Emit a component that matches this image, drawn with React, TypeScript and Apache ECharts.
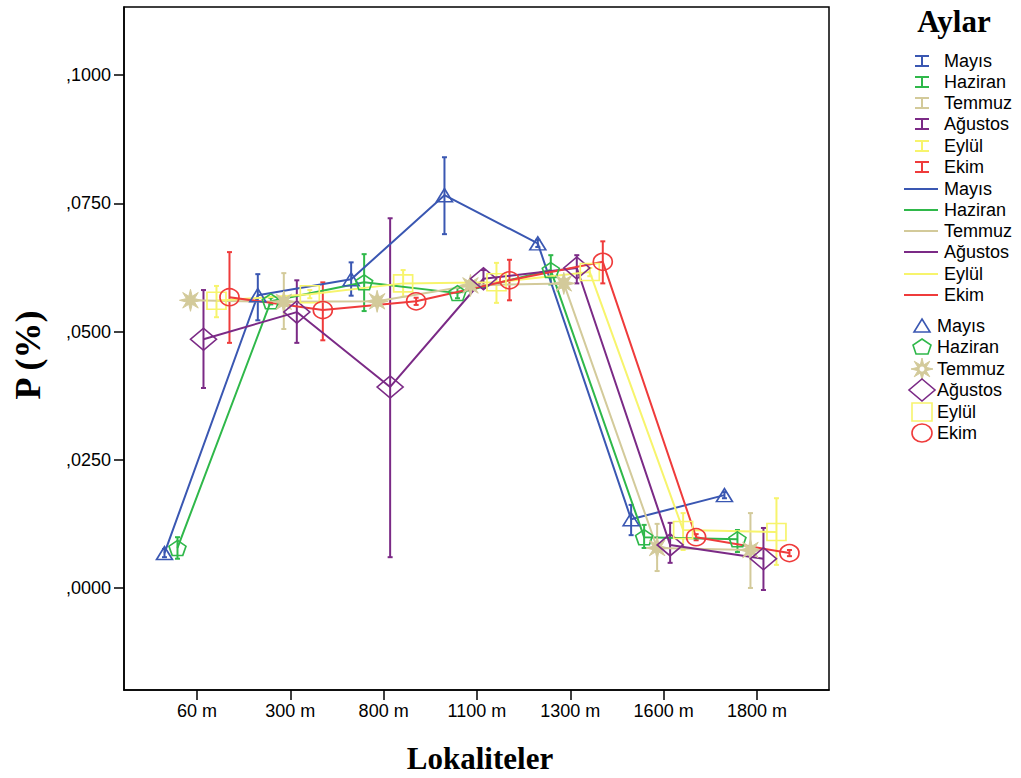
import React, { useEffect, useRef } from "react";
import * as echarts from "echarts";

// Sampling sites (x axis) and months (series)
const CATEGORIES = ["60 m", "300 m", "800 m", "1100 m", "1300 m", "1600 m", "1800 m"];
const MONTHS = ["Mayıs", "Haziran", "Temmuz", "Ağustos", "Eylül", "Ekim"];
const COLORS = ["#3a57b2", "#2fb84a", "#d3ca9a", "#7b2a86", "#f7f46c", "#ef3b3b"];

// Mean P (%) per site, with lower / upper error-bar ends
const MAYIS_MEAN = [0.0068, 0.0571, 0.0602, 0.0766, 0.0672, 0.0134, 0.0181];
const MAYIS_LOW = [0.006, 0.0522, 0.057, 0.069, 0.0665, 0.0103, 0.0175];
const MAYIS_HIGH = [0.0076, 0.0612, 0.0635, 0.084, 0.0679, 0.0162, 0.0187];

const HAZIRAN_MEAN = [0.0078, 0.0559, 0.0596, 0.0575, 0.062, 0.0099, 0.0095];
const HAZIRAN_LOW = [0.0057, 0.0553, 0.054, 0.0565, 0.0592, 0.0078, 0.007];
const HAZIRAN_HIGH = [0.0099, 0.0566, 0.0651, 0.0585, 0.0649, 0.0123, 0.0113];

const TEMMUZ_MEAN = [0.0561, 0.0558, 0.0559, 0.059, 0.0594, 0.0078, 0.0074];
const TEMMUZ_LOW = [0.0555, 0.0505, 0.055, 0.058, 0.0585, 0.0033, 0.0];
const TEMMUZ_HIGH = [0.0567, 0.0614, 0.0568, 0.06, 0.0603, 0.0125, 0.0146];

const AGUSTOS_MEAN = [0.0485, 0.0538, 0.0392, 0.0603, 0.0624, 0.0084, 0.0057];
const AGUSTOS_LOW = [0.039, 0.0478, 0.006, 0.0585, 0.0594, 0.0049, -0.0004];
const AGUSTOS_HIGH = [0.0581, 0.06, 0.0721, 0.062, 0.0649, 0.0127, 0.0117];

const EYLUL_MEAN = [0.056, 0.0573, 0.0594, 0.0596, 0.0616, 0.0113, 0.0109];
const EYLUL_LOW = [0.0528, 0.0565, 0.0568, 0.0556, 0.0608, 0.0074, 0.0045];
const EYLUL_HIGH = [0.0589, 0.0581, 0.062, 0.0634, 0.0624, 0.0146, 0.0175];

const EKIM_MEAN = [0.0567, 0.0542, 0.0559, 0.06, 0.0636, 0.0099, 0.0068];
const EKIM_LOW = [0.0478, 0.0483, 0.0552, 0.0561, 0.0594, 0.0093, 0.0062];
const EKIM_HIGH = [0.0655, 0.0596, 0.0566, 0.064, 0.0676, 0.0105, 0.0074];

const Y_TICKS = [0, 0.025, 0.05, 0.075, 0.1];
const Y_TICK_LABELS = [",0000", ",0250", ",0500", ",0750", ",1000"];

const MEANS = [MAYIS_MEAN, HAZIRAN_MEAN, TEMMUZ_MEAN, AGUSTOS_MEAN, EYLUL_MEAN, EKIM_MEAN];
const LOWS = [MAYIS_LOW, HAZIRAN_LOW, TEMMUZ_LOW, AGUSTOS_LOW, EYLUL_LOW, EKIM_LOW];
const HIGHS = [MAYIS_HIGH, HAZIRAN_HIGH, TEMMUZ_HIGH, AGUSTOS_HIGH, EYLUL_HIGH, EKIM_HIGH];

// horizontal dodge between months inside one site
const DODGE = 0.1393;

const PENTAGON = "path://M0,-10 L9.51,-3.09 L5.88,8.09 L-5.88,8.09 L-9.51,-3.09 Z";
const STAR =
  "path://M0,-10 L1.53,-3.7 L7.07,-7.07 L3.7,-1.53 L10,0 L3.7,1.53 L7.07,7.07 L1.53,3.7 L0,10 L-1.53,3.7 L-7.07,7.07 L-3.7,1.53 L-10,0 L-3.7,-1.53 L-7.07,-7.07 L-1.53,-3.7 Z";
const SYMBOLS = ["triangle", PENTAGON, STAR, "diamond", "rect", "circle"];
const SYMBOL_SIZES: any[] = [[16, 13], [17, 15], [22, 22], [26, 22], [19, 17], [19, 17]];

const SANS = "Liberation Sans, Arial, sans-serif";
const SERIF = "Liberation Serif, Times New Roman, serif";

function buildLegend(): any[] {
  const els: any[] = [];
  els.push({
    type: "text",
    x: 954,
    y: 21,
    style: { text: "Aylar", font: `bold 31px ${SERIF}`, fill: "#000", align: "center", verticalAlign: "middle" },
  });
  const barRows = [61, 82, 103, 124, 146, 167];
  const lineRows = [189, 210, 231, 252, 274, 295];
  const markRows = [326, 347, 369, 390, 412, 433];
  MONTHS.forEach((m, i) => {
    const c = COLORS[i];
    const y = barRows[i];
    els.push({
      type: "group",
      children: [
        { type: "line", shape: { x1: 922, y1: y - 5, x2: 922, y2: y + 5 }, style: { stroke: c, lineWidth: 2 } },
        { type: "line", shape: { x1: 915, y1: y - 5, x2: 929, y2: y - 5 }, style: { stroke: c, lineWidth: 2 } },
        { type: "line", shape: { x1: 915, y1: y + 5, x2: 929, y2: y + 5 }, style: { stroke: c, lineWidth: 2 } },
      ],
    });
    els.push({
      type: "text",
      x: 944,
      y,
      style: { text: m, font: `18px ${SANS}`, fill: "#000", verticalAlign: "middle" },
    });
    const ly = lineRows[i];
    els.push({ type: "line", shape: { x1: 904, y1: ly, x2: 938, y2: ly }, style: { stroke: c, lineWidth: 2 } });
    els.push({
      type: "text",
      x: 944,
      y: ly,
      style: { text: m, font: `18px ${SANS}`, fill: "#000", verticalAlign: "middle" },
    });
    const my = markRows[i];
    const cx = 922;
    const st = { stroke: c, lineWidth: 1.6, fill: "none" };
    if (i === 0) {
      els.push({ type: "polygon", shape: { points: [[cx, my - 7], [cx + 8, my + 6], [cx - 8, my + 6]] }, style: st });
    } else if (i === 1) {
      els.push({
        type: "polygon",
        shape: { points: [[cx, my - 8], [cx + 9, my - 2], [cx + 6, my + 7], [cx - 6, my + 7], [cx - 9, my - 2]] },
        style: st,
      });
    } else if (i === 2) {
      const pts: number[][] = [
        [0, -10], [1.53, -3.7], [7.07, -7.07], [3.7, -1.53], [10, 0], [3.7, 1.53], [7.07, 7.07], [1.53, 3.7],
        [0, 10], [-1.53, 3.7], [-7.07, 7.07], [-3.7, 1.53], [-10, 0], [-3.7, -1.53], [-7.07, -7.07], [-1.53, -3.7],
      ].map((p) => [cx + p[0] * 1.1, my + p[1] * 1.1]);
      els.push({ type: "polygon", shape: { points: pts }, style: { fill: c, stroke: c, lineWidth: 1 } });
      els.push({ type: "circle", shape: { cx, cy: my, r: 2.5 }, style: { fill: "#fff" } });
    } else if (i === 3) {
      els.push({
        type: "polygon",
        shape: { points: [[cx, my - 11], [cx + 13, my], [cx, my + 11], [cx - 13, my]] },
        style: st,
      });
    } else if (i === 4) {
      els.push({ type: "rect", shape: { x: cx - 10, y: my - 9, width: 20, height: 18 }, style: st });
    } else {
      els.push({ type: "ellipse", shape: { cx, cy: my, rx: 10, ry: 9 }, style: st });
    }
    els.push({
      type: "text",
      x: 937,
      y: my,
      style: { text: m, font: `18px ${SANS}`, fill: "#000", verticalAlign: "middle" },
    });
  });
  return els;
}

export default function App() {
  const ref = useRef<HTMLDivElement>(null);

  useEffect(() => {
    if (!ref.current) return;
    const chart = echarts.init(ref.current, null, { renderer: "svg" });

    const series: any[] = [];
    MONTHS.forEach((m, i) => {
      const off = (i - 2.5) * DODGE;
      const barData = CATEGORIES.map((_, k) => [k + off, LOWS[i][k], HIGHS[i][k]]);
      series.push({
        name: m + " hata",
        type: "custom",
        z: 3,
        data: barData,
        encode: { x: 0, y: [1, 2] },
        renderItem: (params: any, api: any) => {
          const x = api.value(0);
          const lo = api.coord([x, api.value(1)]);
          const hi = api.coord([x, api.value(2)]);
          const cw = 2.5;
          const style = { stroke: COLORS[i], lineWidth: 2 };
          return {
            type: "group",
            children: [
              { type: "line", shape: { x1: lo[0], y1: lo[1], x2: hi[0], y2: hi[1] }, style },
              { type: "line", shape: { x1: lo[0] - cw, y1: lo[1], x2: lo[0] + cw, y2: lo[1] }, style },
              { type: "line", shape: { x1: hi[0] - cw, y1: hi[1], x2: hi[0] + cw, y2: hi[1] }, style },
            ],
          };
        },
      });
    });
    MONTHS.forEach((m, i) => {
      const off = (i - 2.5) * DODGE;
      const isStar = i === 2;
      series.push({
        name: m,
        type: "line",
        z: 4,
        data: CATEGORIES.map((_, k) => [k + off, MEANS[i][k]]),
        symbol: SYMBOLS[i],
        symbolSize: SYMBOL_SIZES[i],
        showAllSymbol: true,
        lineStyle: { color: COLORS[i], width: 2 },
        itemStyle: isStar
          ? { color: COLORS[i], borderColor: COLORS[i], borderWidth: 1 }
          : { color: "rgba(0,0,0,0)", borderColor: COLORS[i], borderWidth: 1.6 },
        emphasis: { disabled: true },
      });
    });

    chart.setOption({
      animation: false,
      backgroundColor: "#fff",
      grid: {
        left: 124,
        right: 192,
        top: 7,
        bottom: 88,
        show: true,
        borderColor: "#000",
        borderWidth: 1.5,
        backgroundColor: "#fff",
      },
      xAxis: {
        type: "value",
        min: -0.782,
        max: 6.772,
        splitLine: { show: false },
        axisLine: { show: true, onZero: false, lineStyle: { color: "#000", width: 1.5 } },
        axisTick: { show: true, customValues: [0, 1, 2, 3, 4, 5, 6], length: 10, lineStyle: { color: "#000", width: 1.5 } },
        axisLabel: {
          customValues: [0, 1, 2, 3, 4, 5, 6],
          formatter: (v: number) => CATEGORIES[Math.round(v)] ?? "",
          margin: 12,
          color: "#000",
          fontFamily: SANS,
          fontSize: 18,
        },
      },
      yAxis: {
        type: "value",
        min: -0.0199,
        max: 0.1133,
        splitLine: { show: false },
        axisLine: { show: true, onZero: false, lineStyle: { color: "#000", width: 1.5 } },
        axisTick: { show: true, customValues: Y_TICKS, length: 10, lineStyle: { color: "#000", width: 1.5 } },
        axisLabel: {
          customValues: Y_TICKS,
          formatter: (v: number) => {
            const idx = Y_TICKS.findIndex((t) => Math.abs(t - v) < 1e-6);
            return idx >= 0 ? Y_TICK_LABELS[idx] : "";
          },
          margin: 13,
          color: "#000",
          fontFamily: SANS,
          fontSize: 18,
        },
      },
      series,
      graphic: [
        {
          type: "text",
          x: 480,
          y: 758,
          style: { text: "Lokaliteler", font: `bold 31px ${SERIF}`, fill: "#000", align: "center", verticalAlign: "middle" },
        },
        {
          type: "text",
          x: 28,
          y: 355,
          rotation: Math.PI / 2,
          style: { text: "P (%)", font: `bold 36px ${SERIF}`, fill: "#000", align: "center", verticalAlign: "middle" },
        },
        ...buildLegend(),
      ],
    });

    return () => chart.dispose();
  }, []);

  return (
    <div
      ref={ref}
      style={{ position: "fixed", left: 0, top: 0, width: 1021, height: 778, background: "#fff" }}
    />
  );
}
